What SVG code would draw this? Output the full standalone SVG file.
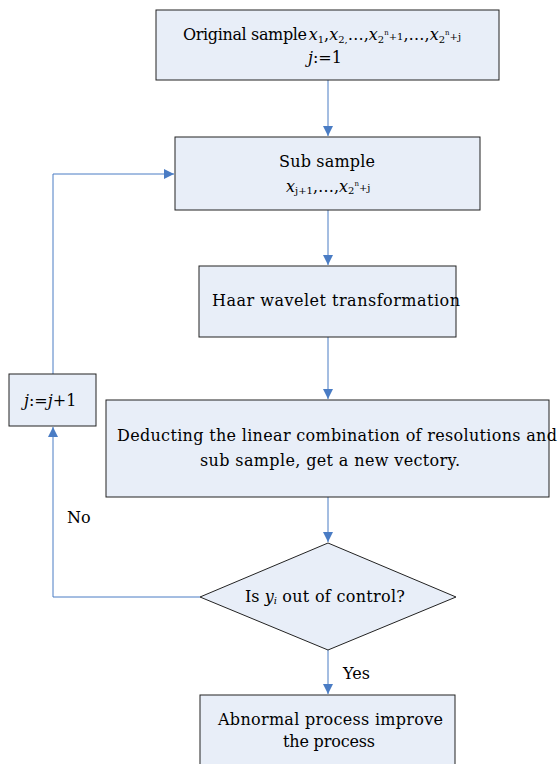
<svg xmlns="http://www.w3.org/2000/svg" width="559" height="764" viewBox="0 0 559 764" font-family="'DejaVu Serif', 'Liberation Serif', serif">
  <style>
    .box { fill: #e8eef8; stroke: #222; stroke-width: 1; }
    .link { fill: none; stroke: #4a7cc4; stroke-width: 1; }
    text { font-size: 16px; fill: #000; }
    .i { font-style: italic; }
    .sub { font-size: 10px; }
    .sup { font-size: 7px; }
  </style>
  <defs>
    <marker id="arrow" viewBox="0 0 10 10" refX="10" refY="5" markerWidth="10" markerHeight="10" markerUnits="userSpaceOnUse" orient="auto">
      <path d="M0,0 L10,5 L0,10 z" fill="#4a7cc4"/>
    </marker>
  </defs>
  <rect width="559" height="764" fill="#fff"/>

  <g id="connectors">
    <line class="link" x1="328" y1="80" x2="328" y2="136" marker-end="url(#arrow)"/>
    <line class="link" x1="328" y1="210" x2="328" y2="265" marker-end="url(#arrow)"/>
    <line class="link" x1="328" y1="337" x2="328" y2="399" marker-end="url(#arrow)"/>
    <line class="link" x1="328" y1="497" x2="328" y2="542" marker-end="url(#arrow)"/>
    <line class="link" x1="328" y1="650" x2="328" y2="694" marker-end="url(#arrow)"/>
    <polyline class="link" points="200,597 53,597 53,427" marker-end="url(#arrow)"/>
    <polyline class="link" points="53,374 53,174 174,174" marker-end="url(#arrow)"/>
    <text x="343" y="679">Yes</text>
    <text x="67" y="523">No</text>
  </g>

  <g id="original-sample">
    <rect class="box" x="156" y="10" width="343" height="70"/>
    <text x="183" y="40"><tspan textLength="124">Original sample</tspan><tspan class="i" dx="2">x</tspan><tspan class="sub" dy="3">1</tspan><tspan dy="-3">,</tspan><tspan class="i">x</tspan><tspan class="sub" dy="3">2,</tspan><tspan dy="-3">…,</tspan><tspan class="i">x</tspan><tspan class="sub" dy="3">2</tspan><tspan class="sup" dy="-8">n</tspan><tspan class="sub" dy="5">+1</tspan><tspan>,…,</tspan><tspan class="i">x</tspan><tspan class="sub" dy="3">2</tspan><tspan class="sup" dy="-8">n</tspan><tspan class="sub" dy="5">+j</tspan></text>
    <text x="308" y="63"><tspan class="i">j</tspan>:=1</text>
  </g>

  <g id="sub-sample">
    <rect class="box" x="175" y="137" width="305" height="73"/>
    <text x="279" y="167" textLength="96">Sub sample</text>
    <text x="286" y="192"><tspan class="i">x</tspan><tspan class="sub" dy="2">j+1</tspan><tspan dy="-2">,…,</tspan><tspan class="i">x</tspan><tspan class="sub" dy="2">2</tspan><tspan class="sup" dy="-8">n</tspan><tspan class="sub" dy="5">+j</tspan></text>
  </g>

  <g id="haar">
    <rect class="box" x="199" y="266" width="257" height="71"/>
    <text x="212" y="306" textLength="248">Haar wavelet transformation</text>
  </g>

  <g id="increment">
    <rect class="box" x="9" y="374" width="87" height="52"/>
    <text x="24" y="406"><tspan class="i">j</tspan>:=<tspan class="i">j</tspan>+1</text>
  </g>

  <g id="deduct">
    <rect class="box" x="106" y="400" width="443" height="97"/>
    <text x="117" y="441" textLength="440">Deducting the linear combination of resolutions and</text>
    <text x="200" y="466" textLength="260">sub sample, get a new vectory.</text>
  </g>

  <g id="decision">
    <polygon class="box" points="328,543 456,597 328,650 200,597"/>
    <text x="245" y="602">Is <tspan class="i">y</tspan><tspan class="sub i" dy="2">i</tspan><tspan dy="-2" textLength="128"> out of control?</tspan></text>
  </g>

  <g id="abnormal">
    <rect class="box" x="200" y="695" width="255" height="80"/>
    <text x="218" y="725" textLength="225">Abnormal process improve</text>
    <text x="283" y="747" textLength="92">the process</text>
  </g>
</svg>
